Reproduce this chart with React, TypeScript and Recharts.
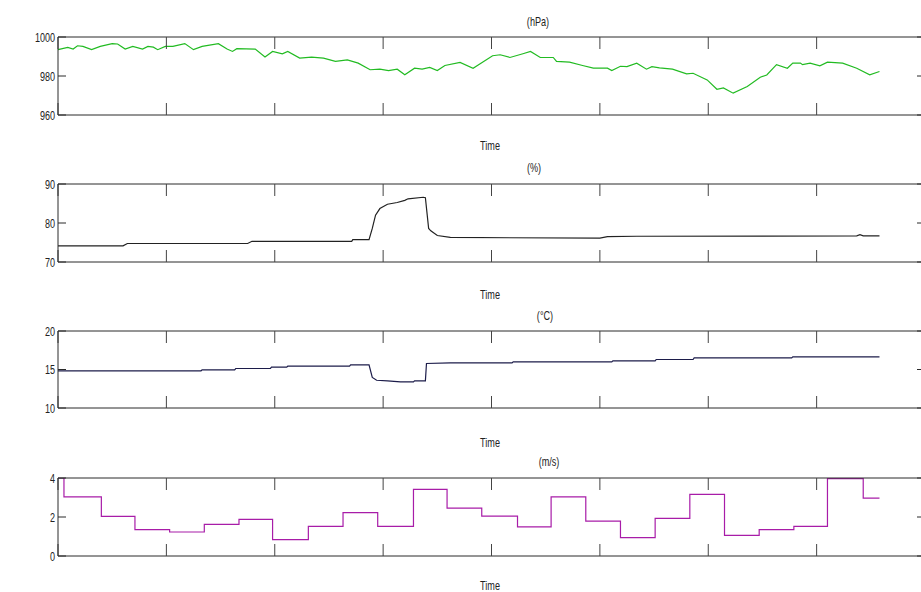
import React from 'react';
import { LineChart, Line, XAxis, YAxis } from 'recharts';

// ---- data (time in days from start) ----
const pressureTime = [0.00, 0.09, 0.14, 0.18, 0.23, 0.31, 0.39, 0.50, 0.55, 0.62, 0.69, 0.78, 0.83, 0.88, 0.92, 0.99, 1.06, 1.17, 1.25, 1.33, 1.48, 1.56, 1.61, 1.65, 1.82, 1.91, 1.98, 2.07, 2.12, 2.23, 2.34, 2.45, 2.56, 2.67, 2.77, 2.88, 2.97, 3.05, 3.13, 3.20, 3.29, 3.36, 3.43, 3.50, 3.57, 3.71, 3.83, 4.01, 4.08, 4.17, 4.29, 4.36, 4.45, 4.57, 4.60, 4.72, 4.84, 4.94, 5.07, 5.11, 5.19, 5.25, 5.34, 5.43, 5.48, 5.55, 5.67, 5.80, 5.86, 5.99, 6.08, 6.14, 6.23, 6.36, 6.48, 6.54, 6.63, 6.73, 6.78, 6.85, 6.87, 6.94, 7.03, 7.10, 7.24, 7.37, 7.49, 7.58];
const pressureValue = [993.5, 994.7, 993.8, 995.5, 995.2, 993.5, 995.2, 996.6, 996.4, 993.8, 995.2, 993.8, 995.2, 994.8, 993.5, 995.2, 995.2, 996.6, 993.5, 995.2, 996.6, 993.8, 992.6, 994.0, 993.8, 989.7, 992.6, 991.4, 992.6, 989.2, 989.7, 989.2, 987.5, 988.3, 986.6, 983.2, 983.5, 982.8, 983.5, 980.6, 984.0, 983.5, 984.4, 982.8, 985.4, 987.0, 984.0, 990.4, 990.9, 989.5, 991.4, 992.6, 989.5, 989.5, 987.5, 987.1, 985.4, 984.0, 984.0, 982.8, 985.0, 984.8, 986.6, 983.5, 984.8, 984.2, 983.5, 981.1, 981.4, 978.0, 973.2, 973.9, 971.2, 974.6, 979.4, 980.5, 985.8, 984.0, 986.6, 986.6, 985.8, 986.6, 985.2, 987.1, 986.6, 984.0, 980.6, 982.3];

const humidityTime = [0, 0.60, 0.64, 1.75, 1.79, 2.71, 2.72, 2.87, 2.90, 2.93, 2.97, 3.04, 3.13, 3.20, 3.23, 3.37, 3.39, 3.42, 3.44, 3.50, 3.62, 5.00, 5.07, 5.34, 7.37, 7.40, 7.43, 7.58];
const humidityValue = [74.15, 74.15, 74.75, 74.75, 75.3, 75.3, 75.75, 75.75, 78.6, 82, 83.7, 84.8, 85.25, 85.8, 86.2, 86.6, 86.5, 78.6, 78, 76.8, 76.3, 76.1, 76.5, 76.6, 76.7, 77, 76.7, 76.7];

const temperatureTime = [0, 1.32, 1.33, 1.63, 1.64, 1.96, 1.97, 2.11, 2.12, 2.69, 2.70, 2.87, 2.90, 2.94, 3.04, 3.16, 3.28, 3.29, 3.39, 3.40, 3.62, 4.19, 4.20, 5.11, 5.12, 5.51, 5.52, 5.86, 5.87, 6.77, 6.78, 7.58];
const temperatureValue = [14.83, 14.83, 14.96, 14.96, 15.13, 15.13, 15.3, 15.3, 15.43, 15.43, 15.6, 15.6, 13.97, 13.6, 13.53, 13.4, 13.4, 13.53, 13.53, 15.78, 15.86, 15.86, 15.99, 15.99, 16.12, 16.12, 16.3, 16.3, 16.5, 16.5, 16.64, 16.64];

const windTime = [0, 0.055, 0.40, 0.71, 1.03, 1.35, 1.67, 1.98, 2.31, 2.63, 2.95, 3.28, 3.59, 3.91, 4.24, 4.55, 4.87, 5.19, 5.51, 5.83, 6.15, 6.47, 6.79, 7.10, 7.43, 7.58];
const windValue = [4.0, 3.03, 2.03, 1.35, 1.23, 1.62, 1.88, 0.84, 1.52, 2.22, 1.52, 3.42, 2.46, 2.05, 1.49, 3.03, 1.79, 0.94, 1.93, 3.16, 1.06, 1.35, 1.52, 3.97, 2.97, 2.97];

const timeTicks = [0, 1, 2, 3, 4, 5, 6, 7, 8];
const pressureTicks = [960, 980, 1000];
const humidityTicks = [70, 80, 90];
const temperatureTicks = [10, 15, 20];
const windTicks = [0, 2, 4];
const titles = ['(hPa)', '(%)', '(°C)', '(m/s)'];
const xLabel = 'Time';

const FONT = '"Liberation Sans", Arial, sans-serif';
const AXIS = '#2a2a2a';

const zip = (t: number[], v: number[]) => t.map((tt, i) => ({ t: tt, v: v[i] }));

function YTick(props: any) {
  const { x, y, payload } = props;
  return (
    <g transform={`translate(${x},${y})`}>
      <text x={0} y={0} dy="0.36em" textAnchor="end" fontSize={13.5} fontFamily={FONT} fill="#222" transform="scale(0.67,1)">
        {payload.value}
      </text>
    </g>
  );
}

function EmptyTick() {
  return <g />;
}

function Caption(props: any) {
  const { text, cx, cy } = props;
  return (
    <g transform={`translate(${cx},${cy})`}>
      <text x={0} y={0} textAnchor="middle" fontSize={13} fontFamily={FONT} fill="#222" transform="scale(0.7,1)">
        {text}
      </text>
    </g>
  );
}

type PanelProps = {
  data: { t: number; v: number }[];
  domain: [number, number];
  ticks: number[];
  color: string;
  step?: boolean;
  title: string;
  top: number;
  height: number;
  mt: number;
  mb: number;
  titleX: number;
  titleY: number;
  timeY: number;
  strokeWidth?: number;
};

function Panel(p: PanelProps) {
  return (
    <div style={{ position: 'absolute', left: 0, top: p.top, width: 940, height: p.height }}>
      <LineChart width={940} height={p.height} data={p.data} margin={{ top: p.mt - 1, bottom: p.mb - 1, left: 0, right: 14 }}>
        <XAxis
          dataKey="t"
          type="number"
          domain={[0, 8]}
          ticks={timeTicks}
          height={1}
          tick={<EmptyTick />}
          tickSize={-12}
          stroke={AXIS}
          axisLine={{ stroke: AXIS }}
          tickLine={{ stroke: '#444' }}
          label={<Caption text={xLabel} cx={490} cy={p.timeY} />}
        />
        <XAxis
          xAxisId="top"
          orientation="top"
          dataKey="t"
          type="number"
          domain={[0, 8]}
          ticks={timeTicks}
          height={1}
          tick={<EmptyTick />}
          tickSize={-12}
          stroke={AXIS}
          axisLine={{ stroke: AXIS }}
          tickLine={{ stroke: '#444' }}
          label={<Caption text={p.title} cx={p.titleX} cy={p.titleY} />}
        />
        <YAxis
          type="number"
          domain={p.domain}
          ticks={p.ticks}
          width={58}
          tick={<YTick />}
          tickSize={-8}
          tickMargin={11}
          stroke={AXIS}
          axisLine={{ stroke: AXIS }}
          tickLine={{ stroke: AXIS }}
          allowDataOverflow
        />
        <YAxis
          yAxisId="right"
          orientation="right"
          type="number"
          domain={p.domain}
          ticks={p.ticks}
          width={1}
          tick={<EmptyTick />}
          tickSize={-8}
          axisLine={false}
          tickLine={{ stroke: AXIS }}
          allowDataOverflow
        />
        <Line
          dataKey="v"
          type={p.step ? 'stepAfter' : 'linear'}
          stroke={p.color}
          strokeWidth={p.strokeWidth ?? 1.2}
          dot={false}
          activeDot={false}
          isAnimationActive={false}
        />
      </LineChart>
    </div>
  );
}

export default function App() {
  return (
    <div style={{ width: 905, height: 576 }}>
      <div
        style={{
          position: 'fixed',
          left: 0,
          top: 0,
          width: 921,
          height: 592,
          overflow: 'hidden',
          background: '#fff',
        }}
      >
        <Panel data={zip(pressureTime, pressureValue)} domain={[960, 1000]} ticks={pressureTicks} color="#22bb22"
          title={titles[0]} top={0} height={160} mt={37} mb={45} titleX={538} titleY={26} timeY={149.5} />
        <Panel data={zip(humidityTime, humidityValue)} domain={[70, 90]} ticks={humidityTicks} color="#222222"
          title={titles[1]} top={150} height={160} mt={34} mb={48} titleX={534} titleY={22} timeY={148.5} />
        <Panel data={zip(temperatureTime, temperatureValue)} domain={[10, 20]} ticks={temperatureTicks} color="#1c1c4a"
          title={titles[2]} top={300} height={160} mt={31} mb={52} titleX={545} titleY={20} timeY={146.5} />
        <Panel data={zip(windTime, windValue)} domain={[0, 4]} ticks={windTicks} color="#a81ca8" step
          title={titles[3]} top={450} height={142} mt={28} mb={36} titleX={549} titleY={15.5} timeY={140} />
      </div>
    </div>
  );
}
